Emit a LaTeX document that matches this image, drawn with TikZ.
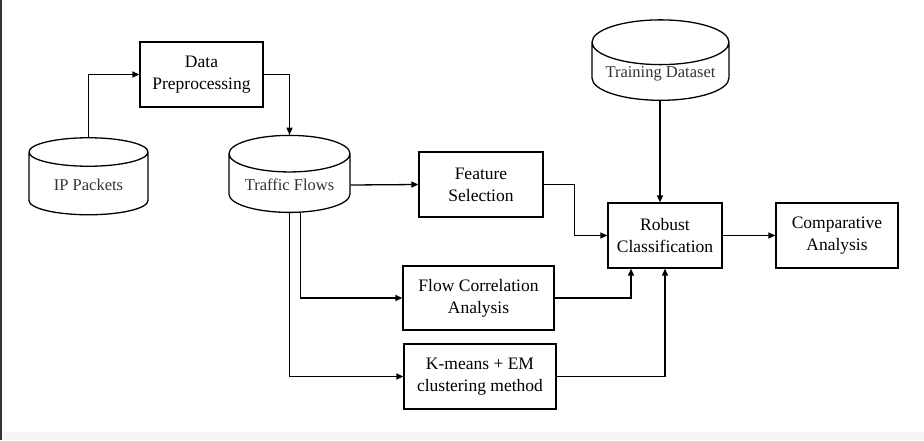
\documentclass[tikz,border=0pt]{standalone}
\usepackage{fontspec}
\setmainfont{Liberation Serif}
\usetikzlibrary{arrows.meta,positioning,shapes.geometric}

\begin{document}
\begin{tikzpicture}[x=1pt,y=-1pt,>={Triangle[length=7pt,width=6pt]},line width=1.3pt,
  box/.style={draw,align=center,font=\fontsize{17.5}{22}\selectfont,inner sep=2pt,minimum height=65pt},
  db/.style={draw,cylinder,shape border rotate=90,aspect=0.4,align=center,
    font=\fontsize{16.5}{22}\selectfont,text=black!80,minimum height=77pt,inner sep=1pt}]
% frame
\useasboundingbox (0,0) rectangle (924,440);
\fill[gray!8] (0,432) rectangle (924,440);
\draw[black!80,line width=2pt] (1,0) -- (1,440);
% stores
\node[db,minimum width=119pt] (ipp) at (88.5,185) {IP Packets};
\node[db,minimum width=121pt] (tf) at (289.5,185) {Traffic Flows};
\node[db,minimum width=137pt] (td) at (660.5,73.5) {Training Dataset};
% steps
\node[box,minimum width=123pt] (dp) at (201.5,74.5) {Data\\Preprocessing};
\node[box,minimum width=124pt] (fs) at (481,184.5) {Feature\\Selection};
\node[box,minimum width=114pt] (rc) at (665,235.5) {Robust\\Classification};
\node[box,minimum width=122pt] (ca) at (837,235.5) {Comparative\\Analysis};
\node[box,minimum width=151pt,minimum height=64pt] (fca) at (478.5,298) {Flow Correlation\\Analysis};
\node[box,minimum width=152pt] (km) at (480,376.5) {K-means + EM\\clustering method};
% flow
\draw[->] (ipp.north) |- (dp.west);
\draw[->] (dp.east) -| (tf.north);
\draw[->] (tf.east) -- (fs.west);
\draw[->] (fs.east) -- ++(31,0) |- (rc.west);
\draw[->] (td.south -| 660,0) -- (rc.north -| 660,0);
\draw[->] ([xshift=11pt]tf.south) |- (fca.west);
\draw[->] (tf.south) |- (km.west);
\draw[->] (fca.east) -| ([xshift=-34pt]rc.south);
\draw[->] (km.east) -| (rc.south);
\draw[->] (rc.east) -- (ca.west);
\end{tikzpicture}
\end{document}
